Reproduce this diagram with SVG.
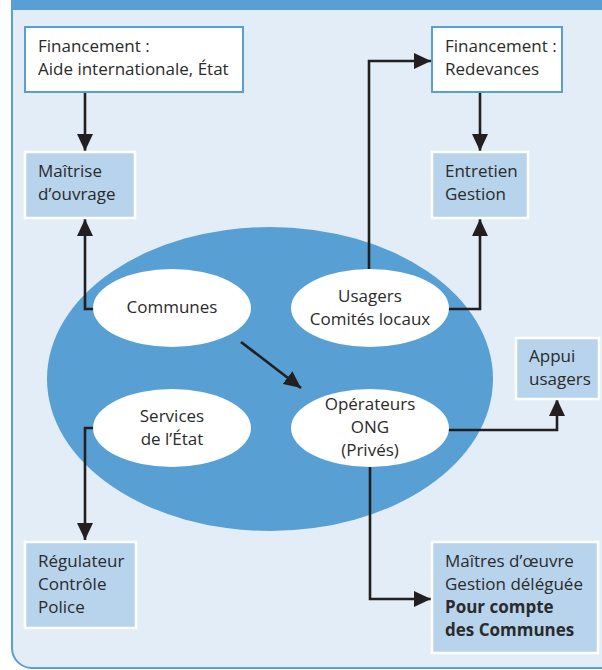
<svg xmlns="http://www.w3.org/2000/svg" width="602" height="670" viewBox="0 0 602 670">
  <defs>
    <style>
      .lbl { font-family: "Open Sans", "Liberation Sans", sans-serif; font-size: 17px; fill: #2b2b2b; }
      .mid { text-anchor: middle; }
      .bold { font-weight: bold; }
      .fund { fill: #ffffff; stroke: #5a9fd4; stroke-width: 2; }
      .role { fill: #b8d3ec; stroke: #ffffff; stroke-width: 2.5; }
      .actor { fill: #ffffff; }
      .link { fill: none; stroke: #231f20; stroke-width: 2.6; marker-end: url(#head); }
    </style>
    <marker id="head" markerUnits="userSpaceOnUse" markerWidth="18" markerHeight="16" refX="17" refY="8" orient="auto">
      <path d="M0,0 L17,8 L0,16 Z" fill="#231f20"/>
    </marker>
  </defs>

  <!-- page frame -->
  <rect x="0" y="0" width="602" height="670" fill="#ffffff"/>
  <rect x="12" y="-30" width="608" height="698" rx="20" ry="20" fill="#e2edf7" stroke="#5a9fd4" stroke-width="2"/>
  <rect x="11" y="0" width="591" height="10" fill="#5a9fd4"/>

  <!-- central field of actors -->
  <g id="field">
    <ellipse cx="270" cy="379" rx="223" ry="152" fill="#589fd4"/>
  </g>

  <g id="connectors">
    <path class="link" d="M85,92 V151"/>
    <path class="link" d="M94,309 H85 V219"/>
    <path class="link" d="M480,92 V151"/>
    <path class="link" d="M369,269 V61 H431"/>
    <path class="link" d="M448,309 H480 V219"/>
    <path class="link" d="M241,342 L301,388"/>
    <path class="link" d="M448,430 H557 V399"/>
    <path class="link" d="M94,428 H85 V540"/>
    <path class="link" d="M370,467 V599 H431"/>
  </g>

  <g id="communes">
    <ellipse class="actor" cx="172" cy="308" rx="79" ry="39"/>
    <text class="lbl mid" x="172" y="313">Communes</text>
  </g>
  <g id="usagers">
    <ellipse class="actor" cx="370" cy="308" rx="79" ry="39"/>
    <text class="lbl mid" x="370" y="302">Usagers</text>
    <text class="lbl mid" x="370" y="325">Comités locaux</text>
  </g>
  <g id="services-etat">
    <ellipse class="actor" cx="172" cy="428" rx="79" ry="39"/>
    <text class="lbl mid" x="172" y="422">Services</text>
    <text class="lbl mid" x="172" y="445">de l’État</text>
  </g>
  <g id="operateurs">
    <ellipse class="actor" cx="370" cy="428" rx="79" ry="39"/>
    <text class="lbl mid" x="370" y="410">Opérateurs</text>
    <text class="lbl mid" x="370" y="433">ONG</text>
    <text class="lbl mid" x="370" y="456">(Privés)</text>
  </g>

  <g id="financement-aide">
    <rect class="fund" x="25" y="27" width="218" height="65"/>
    <text class="lbl" x="38" y="52">Financement :</text>
    <text class="lbl" x="38" y="75">Aide internationale, État</text>
  </g>
  <g id="maitrise-ouvrage">
    <rect class="role" x="25" y="152" width="110" height="66"/>
    <text class="lbl" x="38" y="177">Maîtrise</text>
    <text class="lbl" x="38" y="200">d’ouvrage</text>
  </g>
  <g id="financement-redevances">
    <rect class="fund" x="432" y="27" width="130" height="65"/>
    <text class="lbl" x="445" y="52">Financement :</text>
    <text class="lbl" x="445" y="75">Redevances</text>
  </g>
  <g id="entretien-gestion">
    <rect class="role" x="432" y="152" width="96" height="66"/>
    <text class="lbl" x="445" y="177">Entretien</text>
    <text class="lbl" x="445" y="200">Gestion</text>
  </g>
  <g id="appui-usagers">
    <rect class="role" x="516" y="338" width="83" height="61"/>
    <text class="lbl" x="529" y="362">Appui</text>
    <text class="lbl" x="529" y="385">usagers</text>
  </g>
  <g id="regulateur">
    <rect class="role" x="25" y="542" width="111" height="86"/>
    <text class="lbl" x="38" y="567">Régulateur</text>
    <text class="lbl" x="38" y="590">Contrôle</text>
    <text class="lbl" x="38" y="613">Police</text>
  </g>
  <g id="maitres-oeuvre">
    <rect class="role" x="432" y="542" width="166" height="111"/>
    <text class="lbl" x="445" y="567">Maîtres d’œuvre</text>
    <text class="lbl" x="445" y="590">Gestion déléguée</text>
    <text class="lbl bold" x="445" y="613">Pour compte</text>
    <text class="lbl bold" x="445" y="636">des Communes</text>
  </g>
</svg>
